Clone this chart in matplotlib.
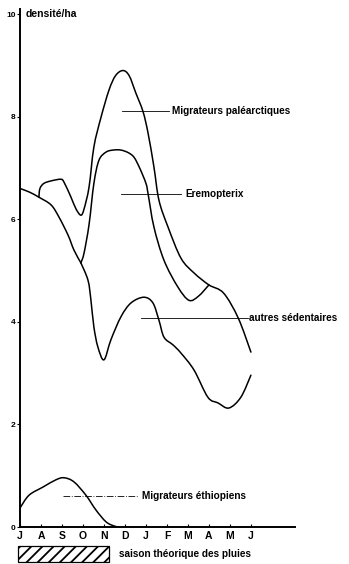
import matplotlib
matplotlib.use("Agg")
import matplotlib.pyplot as plt
import numpy as np
from matplotlib.patches import Rectangle, PathPatch
from matplotlib.path import Path

# month positions: 0 = J(uillet) ... 11 = J(uin)
months = ["J", "A", "S", "O", "N", "D", "J", "F", "M", "A", "M", "J"]
yticks = [0, 2, 4, 6, 8, 10]

# Migrateurs paléarctiques (top curve, branches off near August)
pal_m = [0.9, 0.95, 1.14, 1.5, 1.95, 2.1, 2.43, 2.67, 2.9, 3.05, 3.29, 3.52, 3.86,
         4.24, 4.55, 4.9, 5.2, 5.52, 5.86, 6.1, 6.38, 6.62, 7.05, 7.67, 8.3, 9.0,
         9.7, 10.4, 11.0]
pal_v = [6.43, 6.6, 6.7, 6.75, 6.78, 6.72, 6.43, 6.2, 6.08, 6.2, 6.63, 7.41, 7.99,
         8.52, 8.8, 8.9, 8.8, 8.46, 8.1, 7.68, 7.02, 6.37, 5.85, 5.24, 4.95, 4.72,
         4.56, 4.07, 3.41]

# Eremopterix (middle curve, joins the top one in April)
ere_m = [0, 0.45, 0.9, 1.48, 1.86, 2.29, 2.57, 2.9, 3.05, 3.29, 3.52, 3.76, 4.1,
         4.45, 4.8, 5.15, 5.43, 5.7, 6.0, 6.1, 6.38, 6.86, 7.52, 8.05, 8.5, 9.0]
ere_v = [6.6, 6.53, 6.43, 6.28, 6.04, 5.69, 5.4, 5.15, 5.34, 5.9, 6.7, 7.15, 7.31,
         7.35, 7.35, 7.3, 7.21, 7.0, 6.7, 6.5, 5.85, 5.2, 4.68, 4.42, 4.5, 4.72]

# autres sédentaires (lower curve, splits off in October)
sed_m = [2.9, 3.24, 3.38, 3.52, 3.71, 4.0, 4.33, 4.81, 5.29, 5.9, 6.33, 6.62, 6.86,
         7.29, 7.67, 8.29, 8.95, 9.43, 9.95, 10.52, 11.0]
sed_v = [5.15, 4.81, 4.42, 3.9, 3.51, 3.26, 3.65, 4.1, 4.37, 4.48, 4.37, 4.03, 3.7,
         3.55, 3.39, 3.06, 2.53, 2.42, 2.32, 2.53, 2.96]

# Migrateurs éthiopiens
eth_m = [0, 0.43, 1.1, 1.71, 2.1, 2.57, 3.14, 3.62, 4.1, 4.48, 4.7]
eth_v = [0.37, 0.62, 0.78, 0.92, 0.96, 0.88, 0.62, 0.33, 0.1, 0.02, 0.0]


def smooth_curve(ax, xs, ys, lw=1.1):
    # hand-drawn look: cubic bezier through the read points (catmull-rom)
    p = np.column_stack([xs, ys]).astype(float)
    ext = np.vstack([p[0], p, p[-1]])
    verts = [p[0]]
    codes = [Path.MOVETO]
    for i in range(1, len(ext) - 2):
        p0, p1, p2, p3 = ext[i - 1], ext[i], ext[i + 1], ext[i + 2]
        verts += [p1 + (p2 - p0) / 6, p2 - (p3 - p1) / 6, p2]
        codes += [Path.CURVE4] * 3
    ax.add_patch(PathPatch(Path(verts, codes), fill=False, lw=lw,
                           edgecolor="black", joinstyle="round", capstyle="round"))


plt.rcParams["font.family"] = ["Liberation Sans", "DejaVu Sans"]
plt.rcParams["font.weight"] = "bold"
plt.rcParams["hatch.linewidth"] = 1.3

fig = plt.figure(figsize=(3.49, 5.64), dpi=100)
ax = fig.add_axes([20 / 349, 37 / 564, 275 / 349, 518 / 564])
ax.set_xlim(0, 13.1)
ax.set_ylim(0, 10.1)

for s in ("top", "right"):
    ax.spines[s].set_visible(False)
for s in ("left", "bottom"):
    ax.spines[s].set_linewidth(1.4)

split = ere_m.index(2.9)
smooth_curve(ax, pal_m, pal_v)
smooth_curve(ax, ere_m[:split + 1], ere_v[:split + 1])
smooth_curve(ax, ere_m[split:], ere_v[split:])
smooth_curve(ax, sed_m, sed_v)
smooth_curve(ax, eth_m, eth_v)

# leader lines + labels
lab = dict(fontsize=7.2, fontweight="bold", va="center", ha="left", clip_on=False)
ax.plot([4.86, 7.1], [8.11, 8.11], color="black", lw=0.6)
ax.text(7.24, 8.11, "Migrateurs paléarctiques", **lab)
ax.plot([4.81, 7.67], [6.49, 6.49], color="black", lw=0.6)
ax.text(7.86, 6.49, "Eremopterix", **lab)
ax.plot([5.76, 10.86], [4.07, 4.07], color="black", lw=0.6)
ax.text(10.9, 4.07, "autres sédentaires", **lab)
ax.plot([2.05, 5.62], [0.6, 0.6], color="black", lw=0.6, ls=(0, (8, 2, 1, 2)))
ax.text(5.81, 0.6, "Migrateurs éthiopiens", **lab)

# axes ticks
ax.set_xticks(range(len(months)))
ax.set_xticklabels(months, fontsize=7.5, fontweight="bold")
ax.tick_params(axis="x", direction="in", length=2, width=0.8, pad=3)
ax.set_yticks(yticks)
ax.set_yticklabels([str(t) for t in yticks], fontsize=6, fontweight="bold")
ax.tick_params(axis="y", direction="out", length=2, width=0.8, pad=1)

ax.text(0.25, 10.0, "densité/ha", fontsize=7.5, fontweight="bold", va="center",
        ha="left", clip_on=False)

# rainy season bar
ax.add_patch(Rectangle((-0.1, -0.68), 4.34, 0.31, fill=False, hatch="///",
                       lw=0.9, edgecolor="black", clip_on=False))
ax.text(4.71, -0.53, "saison théorique des pluies", fontsize=7.2, fontweight="bold",
        va="center", ha="left", clip_on=False)

fig.savefig("out.png", dpi=100, facecolor="white")
